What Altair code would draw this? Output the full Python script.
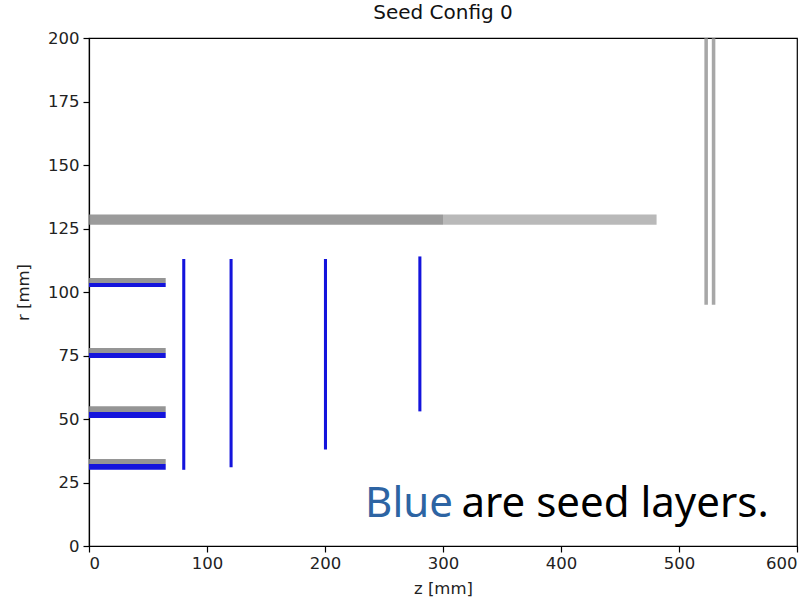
import altair as alt
import pandas as pd

# Detector layer extents in (z, r), millimetres
z_min = [0, 0, 0, 0, 0, 0, 0, 0, 79.0, 119.1, 199.1, 279.1, 0, 300, 521.5, 527.8]
z_max = [65, 65, 65, 65, 65, 65, 65, 65, 81.6, 121.7, 201.7, 281.7, 300, 481, 524.5, 530.8]
r_min = [32.3, 52.8, 76.0, 103.5, 30.0, 50.4, 74.0, 102.0, 30.0, 31.0, 38.0, 53.0, 126.5, 126.5, 95.0, 95.0]
r_max = [34.3, 55.0, 78.0, 105.5, 32.3, 52.8, 76.0, 103.5, 113.0, 113.0, 113.0, 114.0, 130.5, 130.5, 200.0, 200.0]
is_seed = [False, False, False, False, True, True, True, True, True, True, True, True, False, False, False, False]
alpha = [0.9, 0.9, 0.9, 0.9, 1, 1, 1, 1, 1, 1, 1, 1, 0.85, 0.6, 0.75, 0.75]

layers = pd.DataFrame({
    "z0": z_min, "z1": z_max, "r0": r_min, "r1": r_max,
    "seed": ["seed" if s else "other" for s in is_seed],
    "alpha": alpha,
})

# Annotation text and anchor positions in data units
note_words = ["Blue", "are seed layers."]
note_z = [234.0, 576.0]
note_r = [11.5, 11.5]
note_align = ["left", "right"]
note_color = ["#2d64a3", "#000000"]

x_scale = alt.Scale(domain=[0, 600], nice=False, zero=False)
y_scale = alt.Scale(domain=[0, 200], nice=False, zero=False)

x_axis = alt.Axis(title="z [mm]", values=[0, 100, 200, 300, 400, 500, 600],
                  grid=False, tickSize=6, labelPadding=3, titlePadding=9)
y_axis = alt.Axis(title="r [mm]", values=[0, 25, 50, 75, 100, 125, 150, 175, 200],
                  grid=False, tickSize=6, labelPadding=4, titlePadding=16)

rects = alt.Chart(layers).mark_rect().encode(
    x=alt.X("z0:Q", scale=x_scale, axis=x_axis),
    x2="z1:Q",
    y=alt.Y("r0:Q", scale=y_scale, axis=y_axis),
    y2="r1:Q",
    color=alt.Color("seed:N", scale=alt.Scale(domain=["seed", "other"],
                                              range=["#1414dc", "#8a8a8a"]), legend=None),
    opacity=alt.Opacity("alpha:Q", scale=None),
)

text_layers = []
for word, z, r, al, col in zip(note_words, note_z, note_r, note_align, note_color):
    df = pd.DataFrame({"z": [z], "r": [r], "t": [word]})
    text_layers.append(
        alt.Chart(df).mark_text(align=al, baseline="alphabetic", font="Noto Sans",
                                fontSize=42, color=col).encode(
            x=alt.X("z:Q", scale=x_scale),
            y=alt.Y("r:Q", scale=y_scale),
            text="t:N",
        )
    )

chart = alt.layer(rects, *text_layers).properties(
    width=708, height=508,
    background="white",
    title=alt.TitleParams("Seed Config 0", font="DejaVu Sans", fontSize=20,
                          fontWeight="normal", color="#111111", offset=7),
    padding={"left": 89, "top": 38, "right": 15, "bottom": 57},
    autosize=alt.AutoSizeParams(type="none"),
).configure_view(
    stroke="#000000", strokeWidth=1.2,
).configure_axis(
    domainColor="#000000", tickColor="#000000", labelColor="#222222",
    titleColor="#222222", labelFont="DejaVu Sans", titleFont="DejaVu Sans",
    labelFontSize=16.5, titleFontSize=16.5, titleFontWeight="normal",
    domainWidth=1.2, tickWidth=1.2,
)

chart.save("out.html", embed_options={"renderer": "svg", "actions": False})
